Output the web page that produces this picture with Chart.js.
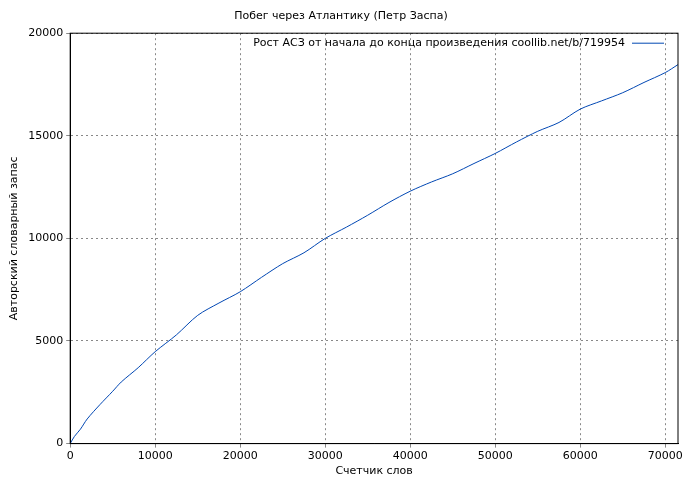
<!DOCTYPE html>
<html><head><meta charset="utf-8">
<script src="https://cdn.jsdelivr.net/npm/chart.js@4/dist/chart.umd.min.js"></script>
<style>body{margin:0;background:#fff}#wrap{width:700px;height:480px}</style>
</head><body><div id="wrap"><canvas id="c"></canvas></div>
<script>
// word counter vs vocabulary size
const wordCounts = [0, 500, 1200, 2000, 3500, 5000, 6000, 8000, 10000, 12500, 15000, 17500, 20000, 22500, 25000, 27500, 30000, 32500, 35000, 37500, 40000, 42500, 45000, 47500, 50000, 52500, 55000, 57500, 60000, 62500, 65000, 67500, 70000, 71500];
const vocab = [0, 350, 700, 1200, 1900, 2550, 3000, 3700, 4480, 5300, 6250, 6850, 7400, 8100, 8770, 9300, 10000, 10550, 11130, 11750, 12300, 12750, 13150, 13650, 14140, 14700, 15220, 15650, 16300, 16700, 17100, 17600, 18080, 18470];
const xTicks = [0, 10000, 20000, 30000, 40000, 50000, 60000, 70000];
const legendText = 'Рост АСЗ от начала до конца произведения coollib.net/b/719954';
const lineColor = '#0047b3';

Chart.defaults.font.family = 'DejaVu Sans';
Chart.defaults.font.size = 11;
Chart.defaults.color = '#000';

const legendPlugin = {
    id: 'insideLegend',
    afterDraw(chart) {
        const { ctx, chartArea } = chart;
        ctx.save();
        ctx.font = '11px DejaVu Sans';
        ctx.fillStyle = '#000';
        ctx.textAlign = 'right';
        ctx.textBaseline = 'middle';
        const y = chartArea.top + 10;
        ctx.fillText(legendText, chartArea.right - 53, y);
        ctx.strokeStyle = lineColor;
        ctx.lineWidth = 1;
        ctx.beginPath();
        ctx.moveTo(chartArea.right - 46, y);
        ctx.lineTo(chartArea.right - 14, y);
        ctx.stroke();
        ctx.restore();
    }
};

new Chart(document.getElementById('c'), {
    type: 'line',
    data: {
        datasets: [{
            data: wordCounts.map((x, i) => ({ x: x, y: vocab[i] })),
            borderColor: lineColor,
            borderWidth: 1,
            pointRadius: 0,
            tension: 0.3,
            fill: false
        }]
    },
    options: {
        responsive: true,
        maintainAspectRatio: false,
        animation: false,
        layout: { padding: { left: 4, right: 22, top: 0, bottom: 0 } },
        plugins: {
            legend: { display: false },
            tooltip: { enabled: false },
            title: { display: true, text: 'Побег через Атлантику (Петр Заспа)', font: { size: 11, weight: 'normal' }, padding: { top: 10, bottom: 10 } }
        },
        scales: {
            x: {
                type: 'linear', min: 0, max: 71500,
                afterBuildTicks: axis => { axis.ticks = xTicks.map(v => ({ value: v })); },
                ticks: { callback: v => String(v), maxRotation: 0, padding: 2 },
                grid: { color: '#888', tickLength: 4 },
                border: { color: '#000', dash: [2, 3] },
                title: { display: true, text: 'Счетчик слов', padding: { top: 0, bottom: 2 } }
            },
            y: {
                min: 0, max: 20000,
                ticks: { stepSize: 5000, callback: v => String(v) },
                grid: { color: '#888', tickLength: 4 },
                border: { color: '#000', dash: [2, 3] },
                title: { display: true, text: 'Авторский словарный запас' }
            }
        }
    },
    plugins: [legendPlugin, {
        id: 'frame',
        afterDraw(chart) {
            const { ctx, chartArea: a } = chart;
            ctx.save();
            ctx.strokeStyle = '#000';
            ctx.lineWidth = 1;
            ctx.strokeRect(a.left, a.top, a.right - a.left, a.bottom - a.top);
            ctx.restore();
        }
    }]
});
</script></body></html>
